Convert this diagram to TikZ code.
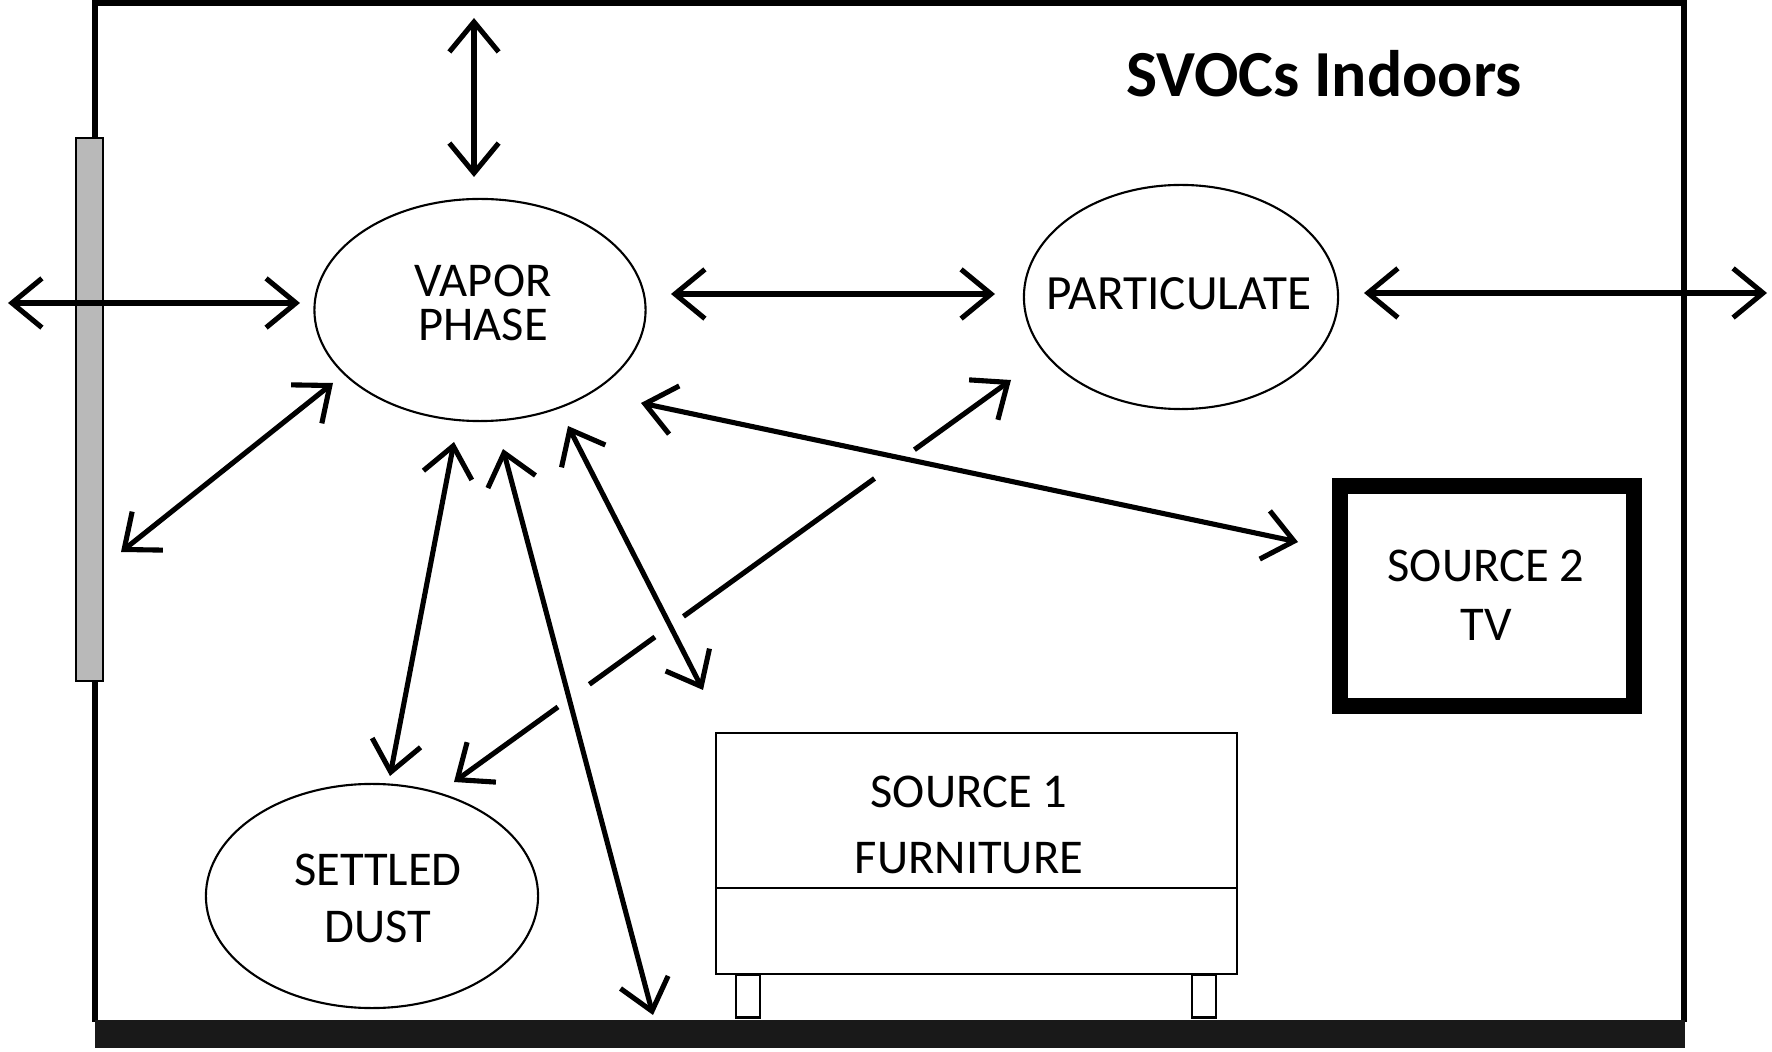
\documentclass[tikz,border=0pt]{standalone}
\usepackage{fontspec}
\setmainfont{Carlito}
\usetikzlibrary{arrows.meta,shapes.geometric}
\begin{document}
\begin{tikzpicture}[x=0.01cm,y=-0.01cm,
  wall/.style={line width=1.6pt},
  flow/.style={line width=1.45pt,{Straight Barb[length=8.5pt,width=14pt]}-{Straight Barb[length=8.5pt,width=14pt]}},
  blob/.style={ellipse,draw,line width=0.6pt,inner sep=0pt},
  thinbox/.style={draw,line width=0.6pt,inner sep=0pt,fill=white},
  lbl/.style={align=center,inner sep=0pt}
]
\useasboundingbox (0,0) rectangle (1772,1052);

% room
\draw[wall] (95,138) -- (95,3) -- (1684,3) -- (1684,1022);
\draw[line width=1.8pt] (95,3) -- (1684,3);
\draw[wall] (95,681) -- (95,1022);
\fill[black!90] (95,1020) rectangle (1685,1048);
\draw[fill=gray!55,line width=0.6pt] (76,138) rectangle (103,681);

% title
\node[anchor=base,font=\fontsize{18.7}{22}\selectfont\bfseries] (title) at (1324,97) {SVOCs Indoors};

% phases
\node[blob,minimum width=3.31cm,minimum height=2.22cm] (vapor) at (480,310) {};
\node[blob,minimum width=3.14cm,minimum height=2.24cm] (part) at (1181,297) {};
\node[blob,minimum width=3.32cm,minimum height=2.24cm] (dust) at (372,896) {};
\node[lbl,font=\fontsize{13.8}{12.5}\selectfont] (vaportxt) at (483,303) {VAPOR\\PHASE};
\node[lbl,font=\fontsize{14}{16}\selectfont] (parttxt) at (1179,294) {PARTICULATE};
\node[lbl,font=\fontsize{13.8}{16.2}\selectfont] (dusttxt) at (378,898) {SETTLED\\DUST};

% furniture
\node[thinbox,minimum width=0.24cm,minimum height=0.43cm] (legL) at (748,996) {};
\node[thinbox,minimum width=0.24cm,minimum height=0.43cm] (legR) at (1204,996) {};
\node[thinbox,minimum width=5.21cm,minimum height=2.41cm] (furn) at (976.5,853.5) {};
\draw[line width=0.6pt] (furn.west |- 0,888) -- (furn.east |- 0,888);
\node[lbl,font=\fontsize{13.8}{18.8}\selectfont] (furntxt) at (969,825) {SOURCE 1\\FURNITURE};

% TV
\node[draw,line width=0.16cm,minimum width=2.94cm,minimum height=2.2cm,inner sep=0pt] (tv) at (1487,596) {};
\node[lbl,font=\fontsize{13.8}{16.8}\selectfont] (tvtxt) at (1486,595) {SOURCE 2\\TV};

% connector ends
\coordinate (ceil) at (474,18);   \coordinate (vtop) at (474,177);
\coordinate (outL) at (8,303);    \coordinate (vleft) at (300,303);
\coordinate (vright) at (671,294);\coordinate (pleft) at (995,294);
\coordinate (pright) at (1364,293);\coordinate (outR) at (1767,293);
\coordinate (win) at (121,552);   \coordinate (vsw) at (333,383);
\coordinate (vs1) at (454,442);   \coordinate (dtop) at (390,776);
\coordinate (vs2) at (503,449);   \coordinate (floorpt) at (653,1015);
\coordinate (vs3) at (568,426);   \coordinate (furnpt) at (703,690);
\coordinate (vs4) at (641,403);   \coordinate (tvpt) at (1298,542);
\coordinate (psw) at (1011,380);  \coordinate (dne) at (454,782);

% arrows
\draw[flow] (ceil) -- (vtop);
\draw[flow] (outL) -- (vleft);
\draw[flow] (vright) -- (pleft);
\draw[flow] (pright) -- (outR);
\draw[flow] (win) -- (vsw);
\draw[flow] (vs1) -- (dtop);
\draw[flow] (vs2) -- (floorpt);
\draw[flow] (vs3) -- (furnpt);
\draw[flow] (vs4) -- (tvpt);
\draw[flow,dash pattern=on 32pt off 14pt on 67pt off 10pt on 23pt off 11pt on 40pt] (psw) -- (dne);
\end{tikzpicture}
\end{document}
